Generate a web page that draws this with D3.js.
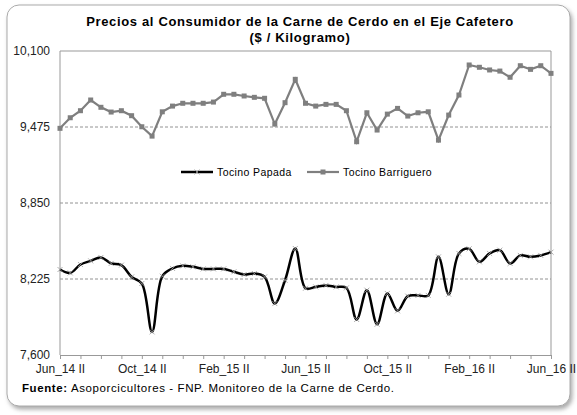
<!DOCTYPE html>
<html>
<head>
<meta charset="utf-8">
<script src="https://cdn.jsdelivr.net/npm/d3@7"></script>
<style>
  body { margin: 0; background: #fff; }
  svg { font-family: "Liberation Sans", Arial, sans-serif; }
</style>
</head>
<body>
<svg id="mainChart" width="577" height="415"></svg>
<script>
const periods = ["Jun_14 II","Jul_14 I","Jul_14 II","Ago_14 I","Ago_14 II","Sep_14 I","Sep_14 II","Oct_14 I",
  "Oct_14 II","Nov_14 I","Nov_14 II","Dic_14 I","Dic_14 II","Ene_15 I","Ene_15 II","Feb_15 I",
  "Feb_15 II","Mar_15 I","Mar_15 II","Abr_15 I","Abr_15 II","May_15 I","May_15 II","Jun_15 I",
  "Jun_15 II","Jul_15 I","Jul_15 II","Ago_15 I","Ago_15 II","Sep_15 I","Sep_15 II","Oct_15 I",
  "Oct_15 II","Nov_15 I","Nov_15 II","Dic_15 I","Dic_15 II","Ene_16 I","Ene_16 II","Feb_16 I",
  "Feb_16 II","Mar_16 I","Mar_16 II","Abr_16 I","Abr_16 II","May_16 I","May_16 II","Jun_16 I","Jun_16 II"];

const tocinoPapada = [8303,8275,8344,8374,8402,8353,8339,8242,8188,7790,8248,8312,8333,8325,8308,8308,
  8308,8284,8262,8270,8242,8023,8215,8476,8149,8160,8172,8160,8152,7892,8133,7853,
  8106,7963,8084,8090,8090,8407,8100,8435,8473,8366,8435,8462,8353,8419,8407,8419,8446];

const tocinoBarriguero = [9464,9551,9609,9697,9637,9598,9609,9568,9477,9400,9600,9647,9670,9670,9670,9680,
  9744,9744,9730,9719,9711,9499,9675,9867,9670,9647,9661,9661,9609,9354,9592,9450,
  9581,9628,9565,9592,9600,9367,9573,9738,9985,9966,9944,9935,9884,9979,9949,9979,9916];

const yTicks = [7600, 8225, 8850, 9475, 10100];
const xLabels = ["Jun_14 II","Oct_14 II","Feb_15 II","Jun_15 II","Oct_15 II","Feb_16 II","Jun_16 II"];

const svg = d3.select("svg#mainChart");
const attr = { left: 60, right: 551, top: 51, bottom: 355 };

// marco exterior con sombra
const defs = svg.append("defs");
const filt = defs.append("filter").attr("id", "shadow").attr("x", "-5%").attr("y", "-5%").attr("width", "110%").attr("height", "110%");
filt.append("feDropShadow").attr("dx", 2).attr("dy", 3).attr("stdDeviation", 2).attr("flood-color", "#888").attr("flood-opacity", 0.7);

svg.append("rect")
  .attr("x", 7).attr("y", 5).attr("width", 563).attr("height", 401)
  .attr("rx", 12).attr("ry", 12)
  .style("fill", "#fff").style("stroke", "#aaa").style("stroke-width", 1)
  .attr("filter", "url(#shadow)");

svg.append("text").attr("x", 300).attr("y", 26).attr("text-anchor", "middle")
  .style("font-size", "13px").style("font-weight", "bold").style("letter-spacing", "0.65px")
  .text("Precios al Consumidor  de la Carne de Cerdo en el Eje Cafetero");
svg.append("text").attr("x", 300).attr("y", 42).attr("text-anchor", "middle")
  .style("font-size", "13px").style("font-weight", "bold").style("letter-spacing", "0.65px")
  .text("($ / Kilogramo)");

const scaleX = d3.scalePoint().domain(periods).range([attr.left, attr.right]);
const scaleY = d3.scaleLinear().domain([7600, 10100]).range([attr.bottom, attr.top]);

// lineas de grilla
svg.selectAll(".grid")
  .data(yTicks.slice(1, 4))
  .enter()
  .append("line")
  .attr("x1", attr.left).attr("x2", attr.right)
  .attr("y1", d => scaleY(d)).attr("y2", d => scaleY(d))
  .style("stroke", "#777").style("stroke-width", 0.8).style("stroke-dasharray", "3,2");

// borde del area
svg.append("path")
  .attr("d", `M${attr.left},${attr.bottom}V${attr.top}H${attr.right}V${attr.bottom}`)
  .style("fill", "none").style("stroke", "#999").style("stroke-width", 1);

const axisY = d3.axisLeft(scaleY).tickValues(yTicks).tickSize(0).tickPadding(10).tickFormat(d3.format(","));
svg.append("g")
  .attr("transform", `translate(${attr.left},0)`)
  .call(axisY)
  .call(g => g.select(".domain").remove())
  .selectAll("text").style("font-size", "12px").style("fill", "#222");

const axisX = d3.axisBottom(scaleX)
  .tickValues(periods.filter((d, i) => i % 2 === 0))
  .tickSize(4).tickSizeOuter(0)
  .tickFormat(d => xLabels.includes(d) ? d : "");
svg.append("g")
  .attr("transform", `translate(0,${attr.bottom})`)
  .call(axisX)
  .call(g => g.select(".domain").style("stroke", "#999"))
  .call(g => g.selectAll("line").style("stroke", "#999"))
  .selectAll("text").attr("dy", "0.95em").style("font-size", "12px").style("fill", "#222");

// Tocino Barriguero
svg.append("path")
  .datum(tocinoBarriguero)
  .attr("fill", "none").attr("stroke", "#7f7f7f").attr("stroke-width", 2.2)
  .attr("d", d3.line().x((d, i) => scaleX(periods[i])).y(d => scaleY(d)));

svg.selectAll(".sq")
  .data(tocinoBarriguero)
  .enter()
  .append("rect")
  .attr("x", (d, i) => scaleX(periods[i]) - 2.5)
  .attr("y", d => scaleY(d) - 2.5)
  .attr("width", 5).attr("height", 5)
  .style("fill", "#7f7f7f");

// Tocino Papada
svg.append("path")
  .datum(tocinoPapada)
  .attr("fill", "none").attr("stroke", "#000").attr("stroke-width", 2.5)
  .attr("d", d3.line().curve(d3.curveCatmullRom.alpha(0.5)).x((d, i) => scaleX(periods[i])).y(d => scaleY(d)));

svg.selectAll(".xm")
  .data(tocinoPapada)
  .enter()
  .append("path")
  .attr("transform", (d, i) => `translate(${scaleX(periods[i])},${scaleY(d)})`)
  .attr("d", "M-2.5,-2.5L2.5,2.5M-2.5,2.5L2.5,-2.5")
  .style("stroke", "#999").style("stroke-width", 0.8);

// leyenda
const legY = 172;
svg.append("line").attr("x1", 181).attr("x2", 213).attr("y1", legY).attr("y2", legY).style("stroke", "#000").style("stroke-width", 2.5);
svg.append("path").attr("transform", `translate(197,${legY})`).attr("d", "M-2.5,-2.5L2.5,2.5M-2.5,2.5L2.5,-2.5").style("stroke", "#999").style("stroke-width", 0.8);
svg.append("text").attr("x", 217).attr("y", legY + 4).style("font-size", "10.5px").style("letter-spacing", "0.4px").text("Tocino Papada");
svg.append("line").attr("x1", 307).attr("x2", 339).attr("y1", legY).attr("y2", legY).style("stroke", "#7f7f7f").style("stroke-width", 2.2);
svg.append("rect").attr("x", 320.5).attr("y", legY - 2.5).attr("width", 5).attr("height", 5).style("fill", "#7f7f7f");
svg.append("text").attr("x", 343).attr("y", legY + 4).style("font-size", "10.5px").style("letter-spacing", "0.4px").text("Tocino Barriguero");

const src = svg.append("text").attr("x", 22).attr("y", 392).style("font-size", "11.5px").style("letter-spacing", "0.6px");
src.append("tspan").style("font-weight", "bold").text("Fuente:");
src.append("tspan").text(" Asoporcicultores - FNP.  Monitoreo de la Carne de Cerdo.");
</script>
</body>
</html>
